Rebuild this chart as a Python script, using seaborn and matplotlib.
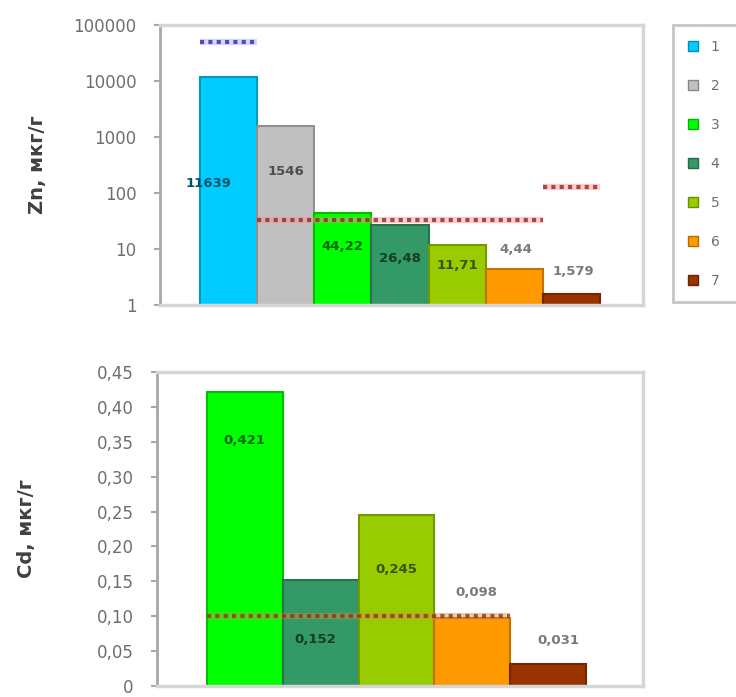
import matplotlib
matplotlib.use('Agg')
import matplotlib.pyplot as plt
import matplotlib.colors as mcolors
import seaborn as sns
import pandas as pd
from matplotlib.ticker import FixedLocator, FuncFormatter, NullLocator

# --- data ---
zn_series = ['1', '2', '3', '4', '5', '6', '7']
zn_values = [11639, 1546, 44.22, 26.48, 11.71, 4.44, 1.579]
zn_text = ['11639', '1546', '44,22', '26,48', '11,71', '4,44', '1,579']

cd_series = ['3', '4', '5', '6', '7']
cd_values = [0.421, 0.152, 0.245, 0.098, 0.031]
cd_text = ['0,421', '0,152', '0,245', '0,098', '0,031']

# permissible levels (value, first series, last series under the line)
zn_norms = [50000, 33, 130]
zn_norm_spans = [('1', '1'), ('2', '6'), ('7', '7')]
cd_norms = [0.1]
cd_norm_spans = [('3', '6')]

zn_ticks = [1, 10, 100, 1000, 10000, 100000]
cd_ticks = [0, 0.05, 0.10, 0.15, 0.20, 0.25, 0.30, 0.35, 0.40, 0.45]

series_colors = {'1': '#00CCFF', '2': '#C0C0C0', '3': '#00FF00', '4': '#339966',
                 '5': '#99CC00', '6': '#FF9900', '7': '#993300'}

# label nudges in pixels (dx, dy) from bar top
zn_label_shift = [(-20, -106), (0, -45), (0, -34), (0, -33), (0, -20), (2, 19), (2, 22)]
cd_label_shift = [(0, -48), (-5, -60), (0, -54), (4, 25), (10, 24)]
zn_label_inside = [True, True, True, True, True, False, False]
cd_label_inside = [True, True, True, False, False]


def darker(c, f=0.55):
    r, g, b = mcolors.to_rgb(c)
    return (r * f, g * f, b * f)


sns.set_style('white')
plt.rcParams['font.family'] = ['DejaVu Sans']

fig = plt.figure(figsize=(7.36, 6.97), dpi=100)
W, H = 736, 697
ax1 = fig.add_axes([160 / W, 1 - 305 / H, (643 - 160) / W, 280 / H])
ax2 = fig.add_axes([157 / W, 1 - 686 / H, (643 - 157) / W, 314 / H])

zn_df = pd.DataFrame({'metal': 'Zn', 'series': zn_series, 'value': zn_values})
cd_df = pd.DataFrame({'metal': 'Cd', 'series': cd_series, 'value': cd_values})

sns.barplot(data=zn_df, x='metal', y='value', hue='series', hue_order=zn_series,
            palette=series_colors, saturation=1, width=0.8, gap=0, ax=ax1)
sns.barplot(data=cd_df, x='metal', y='value', hue='series', hue_order=cd_series,
            palette=series_colors, saturation=1, width=0.8, gap=0, legend=False, ax=ax2)

ax1.set_yscale('log')
ax1.set_ylim(1, 100000)
ax1.yaxis.set_major_locator(FixedLocator(zn_ticks))
ax1.yaxis.set_minor_locator(NullLocator())
ax1.yaxis.set_major_formatter(FuncFormatter(lambda v, p: f'{int(round(v))}'))
ax1.set_xlim(-0.48, 0.486)

ax2.set_ylim(0, 0.45)
ax2.yaxis.set_major_locator(FixedLocator(cd_ticks))
ax2.yaxis.set_major_formatter(FuncFormatter(
    lambda v, p: '0' if abs(v) < 1e-9 else f'{v:.2f}'.replace('.', ',')))
ax2.set_xlim(-0.505, 0.52)


def style_panel(ax, series, texts, shifts, inside, norms, spans, norm_color, ylabel, label_x):
    bars = {}
    for cont, name in zip(ax.containers, series):
        bar = cont.patches[0]
        bar.set_edgecolor(darker(series_colors[name], 0.75))
        bar.set_linewidth(1.5)
        bars[name] = bar
    for name, txt, (dx, dy), ins in zip(series, texts, shifts, inside):
        bar = bars[name]
        col = darker(series_colors[name], 0.4) if ins else '#7a7a7a'
        ax.annotate(txt, (bar.get_x() + bar.get_width() / 2, bar.get_height()),
                    xytext=(dx * 0.72, dy * 0.72), textcoords='offset points',
                    ha='center', va='center', fontsize=9.5, fontweight='bold', color=col)
    for val, (a, b), col in zip(norms, spans, norm_color):
        x0 = bars[a].get_x()
        x1 = bars[b].get_x() + bars[b].get_width()
        ax.hlines(val, x0, x1, colors=col[0], linewidth=4.5, alpha=0.45, zorder=4)
        ax.hlines(val, x0, x1, colors=col[1], linewidth=3, linestyles=(0, (1, 1)),
                  alpha=0.8, zorder=5)
    ax.set_xticks([])
    ax.set_xlabel('')
    ax.set_ylabel(ylabel, fontsize=14, fontweight='bold', color='#404040')
    ax.yaxis.set_label_coords(label_x, 0.5)
    for s in ax.spines.values():
        s.set_visible(True)
        s.set_color('#D6D6D6')
        s.set_linewidth(2.5)
    ax.spines['left'].set_color('#A8A8A8')
    ax.spines['left'].set_linewidth(2)
    ax.tick_params(axis='y', direction='out', length=4, width=1.5, color='#A8A8A8',
                   labelcolor='#6e6e6e', labelsize=12, pad=13, left=True)


blue = ('#AAAAFF', '#2E2E99')
red = ('#FF8C8C', '#8B2A2A')
brown = ('#E08A50', '#8B3A10')

style_panel(ax1, zn_series, zn_text, zn_label_shift, zn_label_inside, zn_norms,
            zn_norm_spans, [blue, red, red], 'Zn, мкг/г', -0.234)
style_panel(ax2, cd_series, cd_text, cd_label_shift, cd_label_inside, cd_norms,
            cd_norm_spans, [brown], 'Cd, мкг/г', -0.249)

handles, labels = ax1.get_legend_handles_labels()
ax1.get_legend().remove()
for h in handles:
    h.set_edgecolor(darker(h.get_facecolor(), 0.7))
leg = fig.legend(handles, labels, loc='upper left',
                 bbox_to_anchor=(673 / W, 1 - 25 / H, 90 / W, 0), mode='expand',
                 fontsize=10, labelspacing=1.8, borderpad=1.05, handlelength=0.75,
                 handleheight=0.75, handletextpad=0.9, borderaxespad=0, fancybox=False,
                 frameon=True)
leg.get_frame().set_edgecolor('#B8B8B8')
leg.get_frame().set_linewidth(2)
for t in leg.get_texts():
    t.set_color('#6e6e6e')

fig.savefig('out.png', dpi=100)
